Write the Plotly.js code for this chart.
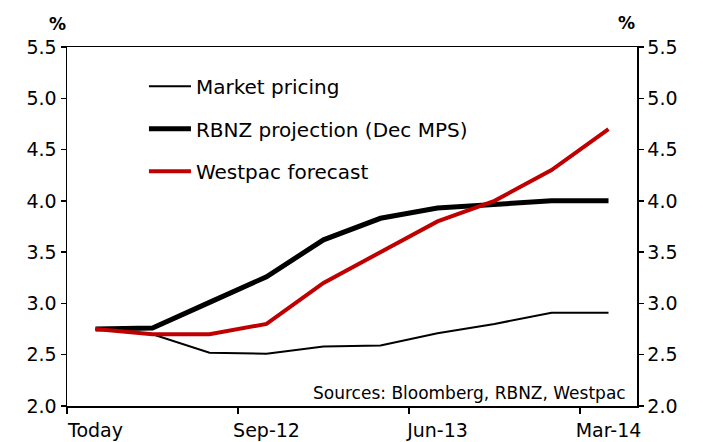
<!DOCTYPE html>
<html>
<head>
<meta charset="utf-8">
<script src="https://cdn.plot.ly/plotly-3.0.1.min.js"></script>
<style>html,body{margin:0;padding:0;background:#fff;}#chart{width:703px;height:442px;}</style>
</head>
<body>
<div id="chart"></div>
<script>
const periods = [0,1,2,3,4,5,6,7,8,9];
const tickPositions = [0,3,6,9];
const tickLabels = ["Today","Sep-12","Jun-13","Mar-14"];
const marketPricing = [2.75,2.70,2.52,2.51,2.58,2.59,2.71,2.80,2.91,2.91];
const rbnzProjection = [2.75,2.76,3.01,3.26,3.62,3.83,3.93,3.97,4.00,4.00];
const westpacForecast = [2.75,2.70,2.70,2.80,3.20,3.50,3.80,4.00,4.30,4.70];
const yTicks = [2.0,2.5,3.0,3.5,4.0,4.5,5.0,5.5];

const FONT = "DejaVu Sans, Verdana, sans-serif";
const traces = [
  {x: periods, y: marketPricing, name: "Market pricing", type: "scatter", mode: "lines",
   line: {color: "#000000", width: 2}, legendgroup: "a"},
  {x: periods, y: rbnzProjection, name: "RBNZ projection (Dec MPS)", type: "scatter", mode: "lines",
   line: {color: "#000000", width: 5}, legendgroup: "b"},
  {x: periods, y: westpacForecast, name: "Westpac forecast", type: "scatter", mode: "lines",
   line: {color: "#C00000", width: 4}, legendgroup: "c"},
  {x: periods, y: westpacForecast, xaxis: "x2", yaxis: "y2", type: "scatter", mode: "lines",
   line: {width: 0}, opacity: 0, showlegend: false, hoverinfo: "skip"}
];

const boundaries = tickPositions.map(v => v - 0.5);
const layout = {
  width: 703, height: 442,
  margin: {l: 67, r: 66, t: 47, b: 36},
  paper_bgcolor: "#ffffff", plot_bgcolor: "#ffffff",
  font: {family: FONT, size: 19, color: "#000000"},
  showlegend: true,
  legend: {x: 0.135, y: 0.945, xanchor: "left", yanchor: "top", bgcolor: "rgba(0,0,0,0)",
           font: {family: FONT, size: 20}, tracegroupgap: 13.5, itemwidth: 42},
  xaxis: {range: [-0.5, 9.5], tickvals: boundaries, ticks: "outside", ticklen: 6, tickwidth: 1.5,
          tickcolor: "#000", showticklabels: false, showline: true, linecolor: "#000", linewidth: 1.5,
          mirror: true, showgrid: false, zeroline: false, fixedrange: true},
  xaxis2: {range: [-0.5, 9.5], overlaying: "x", anchor: "y", side: "bottom", tickvals: tickPositions,
           ticktext: tickLabels, ticks: "", showline: false, showgrid: false, zeroline: false,
           tickfont: {family: FONT, size: 19}, ticklabelstandoff: 11},
  yaxis: {range: [2.0, 5.5], tickvals: yTicks, ticktext: yTicks.map(v => v.toFixed(1)),
          ticks: "outside", ticklen: 5, tickwidth: 1.5, tickcolor: "#000", showline: true,
          linecolor: "#000", linewidth: 1.5, showgrid: false, zeroline: false,
          tickfont: {family: FONT, size: 19}},
  yaxis2: {range: [2.0, 5.5], overlaying: "y", side: "right", anchor: "x", tickvals: yTicks,
           ticktext: yTicks.map(v => v.toFixed(1)), ticks: "outside", ticklen: 5, tickwidth: 1.5,
           tickcolor: "#000", showline: true, linecolor: "#000", linewidth: 1.5, showgrid: false,
           zeroline: false, tickfont: {family: FONT, size: 19}},
  annotations: [
    {text: "<b>%</b>", xref: "paper", yref: "paper", x: 0.002, y: 1.0, yshift: 11, xanchor: "right", yanchor: "bottom",
     showarrow: false, font: {family: FONT, size: 17}},
    {text: "<b>%</b>", xref: "paper", yref: "paper", x: 1.0, y: 1.0, yshift: 12, xanchor: "right", yanchor: "bottom",
     showarrow: false, font: {family: FONT, size: 17}},
    {text: "Sources: Bloomberg, RBNZ, Westpac", xref: "paper", yref: "paper", x: 0.985, y: 0.003,
     xanchor: "right", yanchor: "bottom", showarrow: false, font: {family: FONT, size: 17}}
  ]
};
Plotly.newPlot("chart", traces, layout, {displayModeBar: false, staticPlot: true});
</script>
</body>
</html>
